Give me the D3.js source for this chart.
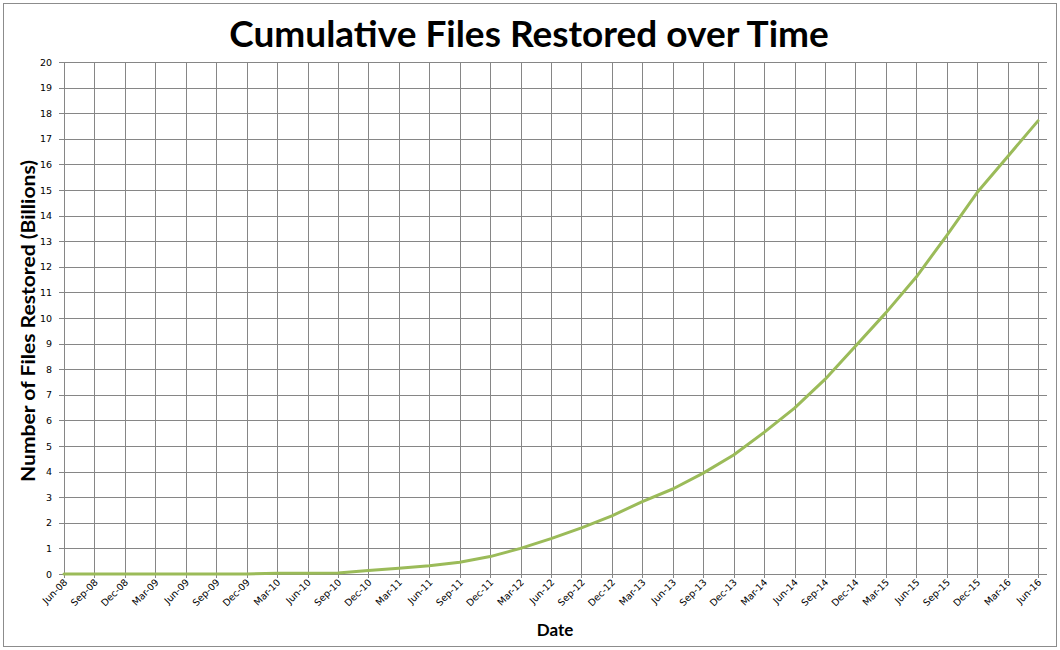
<!DOCTYPE html>
<html>
<head>
<meta charset="utf-8">
<script src="https://cdn.jsdelivr.net/npm/d3@7"></script>
<style>
  body { margin: 0; background: #fff; }
  svg { display: block; }
</style>
</head>
<body>
<svg id="chart" width="1060" height="650"></svg>
<script>
const categories = ["Jun-08","Sep-08","Dec-08","Mar-09","Jun-09","Sep-09","Dec-09","Mar-10","Jun-10","Sep-10",
  "Dec-10","Mar-11","Jun-11","Sep-11","Dec-11","Mar-12","Jun-12","Sep-12","Dec-12","Mar-13",
  "Jun-13","Sep-13","Dec-13","Mar-14","Jun-14","Sep-14","Dec-14","Mar-15","Jun-15","Sep-15",
  "Dec-15","Mar-16","Jun-16"];
const filesRestored = [0,0,0,0,0,0,0,0.03,0.03,0.04,
  0.14,0.22,0.32,0.46,0.68,1.0,1.38,1.8,2.27,2.83,
  3.32,3.94,4.65,5.53,6.48,7.6,8.9,10.2,11.6,13.22,
  14.9,16.3,17.7];
const yTicks = d3.range(0, 21, 1);
const title = "Cumulative Files Restored over Time";
const xTitle = "Date";
const yTitle = "Number of Files Restored (Billions)";

(function () {
const svg = d3.select("#chart");
const pLeft = 64, pRight = 1038, pTop = 62, pBottom = 574, gridRight = 1047;

svg.append("rect").attr("x", 3.5).attr("y", 3.5).attr("width", 1053).attr("height", 643)
  .attr("fill", "#fff").attr("stroke", "#8c8c8c").attr("stroke-width", 1);

const x = d3.scalePoint().domain(categories).range([pLeft, pRight]);
const y = d3.scaleLinear().domain([0, 20]).range([pBottom, pTop]);

const gridColor = "#868686";
svg.append("g").selectAll("line").data(yTicks).join("line")
  .attr("x1", pLeft - 5).attr("x2", gridRight)
  .attr("y1", d => Math.round(y(d)) + 0.5).attr("y2", d => Math.round(y(d)) + 0.5)
  .attr("stroke", gridColor).attr("stroke-width", 1);
svg.append("g").selectAll("line").data(categories).join("line")
  .attr("x1", d => Math.round(x(d)) + 0.5).attr("x2", d => Math.round(x(d)) + 0.5)
  .attr("y1", pTop).attr("y2", pBottom + 4)
  .attr("stroke", gridColor).attr("stroke-width", 1);

svg.append("g").selectAll("text").data(yTicks).join("text")
  .attr("x", 52).attr("y", d => y(d) + 3.5)
  .attr("text-anchor", "end")
  .attr("font-family", "DejaVu Sans, Verdana, sans-serif").attr("font-size", 9.5)
  .attr("fill", "#000").text(d => d);

svg.append("g").selectAll("text").data(categories).join("text")
  .attr("transform", d => `translate(${x(d) + 4},${pBottom + 9}) rotate(-45)`)
  .attr("text-anchor", "end")
  .attr("font-family", "DejaVu Sans, Verdana, sans-serif").attr("font-size", 9.5)
  .attr("fill", "#000").text(d => d);

const line = d3.line().x((d, i) => x(categories[i])).y(d => y(d));
svg.append("path").datum(filesRestored)
  .attr("d", line).attr("fill", "none")
  .attr("stroke", "#9bbb59").attr("stroke-width", 3)
  .attr("stroke-linejoin", "round").attr("stroke-linecap", "round");

svg.append("text").attr("x", 529).attr("y", 47).attr("text-anchor", "middle")
  .attr("font-family", "Lato, 'Open Sans', sans-serif").attr("font-weight", "bold")
  .attr("font-size", 37).attr("fill", "#000").text(title);

svg.append("text").attr("x", 555).attr("y", 636).attr("text-anchor", "middle")
  .attr("font-family", "Lato, 'Open Sans', sans-serif").attr("font-weight", "bold")
  .attr("font-size", 17).attr("fill", "#000").text(xTitle);

svg.append("text").attr("transform", "translate(35,321) rotate(-90)").attr("text-anchor", "middle")
  .attr("font-family", "Lato, 'Open Sans', sans-serif").attr("font-weight", "bold")
  .attr("font-size", 18.5).attr("textLength", 322).attr("lengthAdjust", "spacingAndGlyphs")
  .attr("fill", "#000").text(yTitle);
})();
</script>
</body>
</html>
